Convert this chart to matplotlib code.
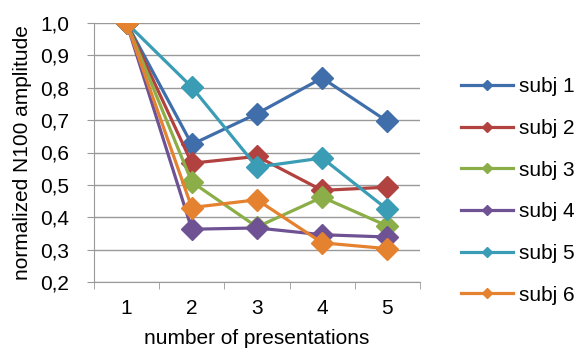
import matplotlib
matplotlib.use("Agg")
import matplotlib.pyplot as plt
from matplotlib.ticker import FuncFormatter

plt.rcParams['font.family'] = ['Liberation Sans', 'DejaVu Sans']

presentations = [1, 2, 3, 4, 5]
subj1 = [1.0, 0.625, 0.72, 0.83, 0.696]
subj2 = [1.0, 0.567, 0.588, 0.483, 0.493]
subj3 = [1.0, 0.509, 0.37, 0.462, 0.373]
subj4 = [1.0, 0.363, 0.367, 0.346, 0.339]
subj5 = [1.0, 0.802, 0.555, 0.583, 0.424]
subj6 = [1.0, 0.43, 0.454, 0.321, 0.303]
series_names = ["subj 1", "subj 2", "subj 3", "subj 4", "subj 5", "subj 6"]
colors = ["#3F6EAA", "#B2423F", "#8BAE48", "#6E5294", "#3A9DB5", "#E5822F"]

W, H = 576, 353
fig = plt.figure(figsize=(W / 100, H / 100), dpi=100)
ax = fig.add_axes([94 / W, 1 - 282 / H, (420 - 94) / W, (282 - 23) / H])

for name, vals, c in zip(series_names, [subj1, subj2, subj3, subj4, subj5, subj6], colors):
    ax.plot(presentations, vals, color=c, lw=2.3, marker='D', markersize=11,
            markeredgecolor=c, label=name)

FS = 15
ax.set_xlim(0.5, 5.5)
ax.set_ylim(0.2, 1.0)
ax.set_yticks([0.2, 0.3, 0.4, 0.5, 0.6, 0.7, 0.8, 0.9, 1.0])
ax.yaxis.set_major_formatter(FuncFormatter(lambda v, p: f"{v:.1f}".replace('.', ',')))
ax.set_xticks(presentations)
ax.set_xticks([0.5, 1.5, 2.5, 3.5, 4.5, 5.5], minor=True)
ax.tick_params(axis='x', which='major', length=0, labelsize=FS, pad=12)
ax.tick_params(axis='x', which='minor', length=5, color='#999999', direction='out')
ax.tick_params(axis='y', length=5, color='#999999', labelsize=FS, direction='out', pad=13)
ax.grid(axis='y', color='#999999', lw=1)
ax.set_axisbelow(True)
for s in ['top', 'right']:
    ax.spines[s].set_visible(False)
ax.spines['left'].set_color('#999999')
ax.spines['bottom'].set_color('#999999')

ax.set_xlabel("number of presentations", fontsize=FS, labelpad=8)
ax.set_ylabel("normalized N100 amplitude", fontsize=FS, labelpad=6)

leg = fig.legend(loc='center left', bbox_to_anchor=(461 / W, 1 - 191 / H),
                 bbox_transform=fig.transFigure, frameon=False,
                 fontsize=FS, handlelength=2.5, labelspacing=1.09, markerscale=0.5,
                 handletextpad=0.3, borderaxespad=0, borderpad=0)

fig.savefig("out.png", dpi=100)
